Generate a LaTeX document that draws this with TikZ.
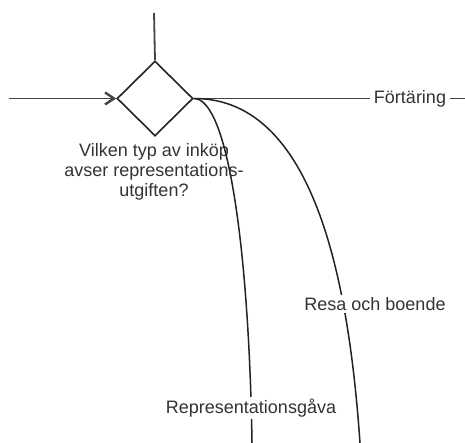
\documentclass[tikz,border=0pt]{standalone}
\usepackage{fontspec}
\setmainfont{Liberation Sans}
\usetikzlibrary{shapes.geometric,arrows.meta}
\definecolor{ink}{HTML}{222222}
\definecolor{rule}{HTML}{444444}
\definecolor{txt}{HTML}{333333}
\begin{document}
\begin{tikzpicture}[x=1pt,y=-1pt,
  flow/.style={draw=rule,line width=1.8pt},
  branch/.style={draw=ink,line width=1.5pt},
  decision/.style={diamond,draw=ink,line width=1.6pt,minimum width=76pt,minimum height=75pt,inner sep=0pt},
  lbl/.style={font=\fontsize{18pt}{20pt}\selectfont,text=txt,fill=white,inner xsep=4pt,inner ysep=2pt},
  note/.style={font=\fontsize{18pt}{20pt}\selectfont,text=txt,align=center,inner sep=0pt}
]
\useasboundingbox (0,0) rectangle (465,443);

% decision and its question
\node[decision] (dia) at (155,98.5) {};
\node[note] (q) at (154,172) {Vilken typ av inköp\\avser representations-\\utgiften?};

% free line ends
\coordinate (top) at (154,13);
\coordinate (in) at (9,98.5);
\coordinate (rend) at (465,98.5);
\coordinate (end1) at (252,443);
\coordinate (end2) at (360,443);

% incoming and upper lines
\draw[flow] (dia.north) -- (top);
\draw[flow,-{Straight Barb[length=9pt,width=12pt,line width=2.4pt]}] (in) -- (dia.west);

% branches
\node[lbl] (f) at (410,98.5) {Förtäring};
\draw[flow] (dia.east) -- (f.west);
\draw[flow] (f.east) -- (rend);

\draw[branch] (dia.east) .. controls (228,98) and (249,250) .. (end1);
\draw[branch] (dia.east) .. controls (320,98) and (350,300) .. (end2);

\node[lbl] (g) at (251,408) {Representationsgåva};
\node[lbl] (r) at (375,304) {Resa och boende};
\end{tikzpicture}
\end{document}
